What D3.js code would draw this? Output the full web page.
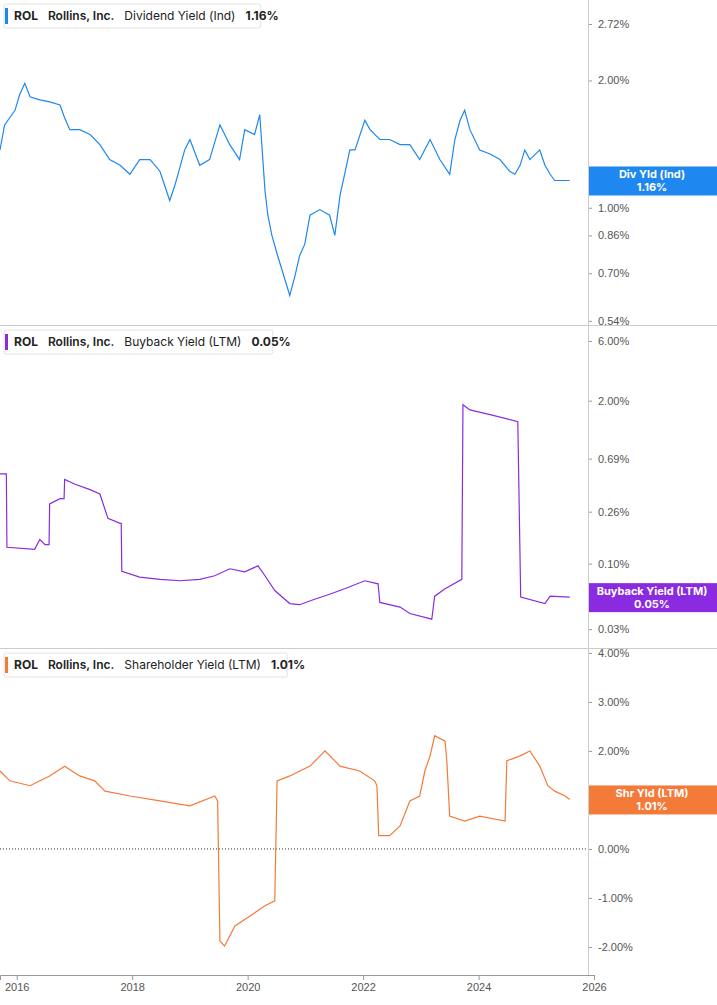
<!DOCTYPE html>
<html>
<head>
<meta charset="utf-8">
<script src="https://cdnjs.cloudflare.com/ajax/libs/d3/7.8.5/d3.min.js"></script>
<style>
  body { margin: 0; background: #fff; font-family: Inter, "Open Sans", sans-serif; }
  .tick text { fill: #555; font-size: 11px; }
</style>
</head>
<body>
<svg id="chart" width="717" height="1005"></svg>
<script>
"use strict";

// dividend yield (ind), %
const divDates = [2015.71,2015.79,2015.97,2016.05,2016.14,2016.23,2016.40,2016.57,2016.75,2016.83,2016.92,2017.09,2017.27,2017.44,2017.61,2017.79,2017.96,2018.13,2018.31,2018.48,2018.65,2018.74,2018.91,2019.00,2019.17,2019.34,2019.52,2019.69,2019.86,2019.95,2020.12,2020.21,2020.30,2020.35,2020.42,2020.52,2020.64,2020.73,2020.82,2020.90,2020.99,2021.08,2021.25,2021.42,2021.51,2021.60,2021.68,2021.77,2021.86,2022.03,2022.12,2022.29,2022.46,2022.64,2022.81,2022.98,2023.16,2023.33,2023.50,2023.59,2023.68,2023.76,2023.85,2024.02,2024.20,2024.37,2024.54,2024.63,2024.72,2024.80,2024.89,2025.06,2025.15,2025.24,2025.32,2025.41,2025.58];
const divYield = [1.37,1.57,1.70,1.85,1.97,1.83,1.80,1.78,1.75,1.63,1.53,1.53,1.49,1.41,1.30,1.26,1.20,1.30,1.30,1.22,1.04,1.13,1.37,1.45,1.26,1.30,1.57,1.41,1.30,1.53,1.49,1.66,1.10,0.96,0.86,0.77,0.68,0.62,0.69,0.77,0.82,0.96,0.99,0.96,0.86,1.07,1.20,1.37,1.37,1.61,1.53,1.45,1.45,1.41,1.41,1.30,1.45,1.30,1.20,1.45,1.61,1.70,1.53,1.37,1.34,1.30,1.22,1.20,1.26,1.37,1.30,1.37,1.26,1.20,1.16,1.16,1.16];

// buyback yield (LTM), %
const bbDates = [2015.71,2015.82,2015.83,2016.31,2016.40,2016.49,2016.56,2016.57,2016.75,2016.82,2016.83,2017.01,2017.27,2017.44,2017.58,2017.79,2017.81,2017.82,2018.13,2018.48,2018.83,2019.17,2019.43,2019.69,2019.95,2020.18,2020.30,2020.47,2020.73,2020.90,2021.16,2021.42,2021.68,2022.03,2022.26,2022.29,2022.64,2022.81,2023.19,2023.24,2023.42,2023.71,2023.73,2023.85,2024.20,2024.68,2024.73,2025.15,2025.24,2025.58];
const bbYield = [0.52,0.52,0.135,0.13,0.156,0.142,0.142,0.30,0.33,0.33,0.47,0.43,0.39,0.36,0.23,0.21,0.21,0.087,0.078,0.075,0.073,0.075,0.080,0.091,0.086,0.096,0.080,0.061,0.048,0.047,0.052,0.057,0.063,0.073,0.069,0.049,0.045,0.040,0.036,0.055,0.063,0.075,1.86,1.69,1.55,1.36,0.054,0.048,0.055,0.054];

// shareholder yield (LTM), %
const shDates = [2015.71,2015.88,2016.23,2016.57,2016.83,2017.09,2017.35,2017.53,2017.96,2018.48,2019.00,2019.43,2019.48,2019.52,2019.60,2019.78,2020.04,2020.30,2020.47,2020.51,2020.73,2021.08,2021.34,2021.60,2021.94,2022.20,2022.24,2022.27,2022.46,2022.64,2022.81,2022.98,2023.07,2023.16,2023.24,2023.42,2023.45,2023.50,2023.76,2024.02,2024.46,2024.49,2024.72,2024.89,2025.06,2025.20,2025.32,2025.50,2025.58];
const shYield = [1.59,1.39,1.29,1.49,1.69,1.49,1.39,1.18,1.08,0.98,0.88,1.08,0.98,-1.88,-1.98,-1.57,-1.37,-1.16,-1.06,1.39,1.49,1.69,2.00,1.69,1.59,1.39,1.29,0.27,0.27,0.47,0.98,1.08,1.59,1.90,2.31,2.20,1.80,0.67,0.57,0.67,0.57,1.80,1.90,2.00,1.69,1.29,1.18,1.08,1.01];

const xTicks = [2016, 2018, 2020, 2022, 2024, 2026];

const panels = [
  { dates: divDates, vals: divYield, color: "#1e88f0", top: 0, bottom: 325, log: true,
    domain: [0.528, 3.10], ticks: [0.54, 0.70, 0.86, 1.00, 2.00, 2.72],
    name: "Dividend Yield (Ind)", last: "1.16%", badge: "Div Yld (Ind)" },
  { dates: bbDates, vals: bbYield, color: "#8a2be2", top: 326, bottom: 648, log: true,
    domain: [0.0212, 7.9], ticks: [0.03, 0.10, 0.26, 0.69, 2.00, 6.00],
    name: "Buyback Yield (LTM)", last: "0.05%", badge: "Buyback Yield (LTM)" },
  { dates: shDates, vals: shYield, color: "#f47a3a", top: 649, bottom: 970, log: false,
    domain: [-2.47, 4.08], ticks: [-2, -1, 0, 1, 2, 3, 4],
    name: "Shareholder Yield (LTM)", last: "1.01%", badge: "Shr Yld (LTM)" }
];

const W = 717, plotR = 588;
const svg = d3.select("#chart");
const x = d3.scaleLinear().domain([2015.71, 2026]).range([0, 594]);

panels.forEach((p, i) => {
  const y = (p.log ? d3.scaleLog() : d3.scaleLinear()).domain(p.domain).range([p.bottom, p.top]);
  const g = svg.append("g");

  g.append("g").attr("transform", `translate(${plotR},0)`)
    .call(d3.axisRight(y).tickValues(p.ticks).tickSize(4).tickFormat(d => d.toFixed(2) + "%"))
    .call(a => a.select(".domain").remove())
    .call(a => a.selectAll("line").attr("stroke", "#999"))
    .call(a => a.selectAll("text").attr("x", 10));

  if (!p.log) {
    g.append("line").attr("x1", 0).attr("x2", plotR).attr("y1", y(0)).attr("y2", y(0))
      .attr("stroke", "#333").attr("stroke-dasharray", "1,2");
  }

  const pts = p.dates.map((d, k) => [d, p.vals[k]]);
  g.append("path").datum(pts)
    .attr("fill", "none").attr("stroke", p.color).attr("stroke-width", 1.2)
    .attr("d", d3.line().x(d => x(d[0])).y(d => y(d[1])));

  // legend box
  const leg = g.append("g").attr("transform", `translate(4,${p.top + 4})`);
  const txt = leg.append("text").attr("x", 10).attr("y", 16).attr("font-size", 12).attr("fill", "#222");
  txt.append("tspan").attr("font-weight", 700).text("ROL");
  txt.append("tspan").attr("dx", 10).attr("font-weight", 600).text("Rollins, Inc.");
  txt.append("tspan").attr("dx", 10).text(p.name);
  txt.append("tspan").attr("dx", 10).attr("font-weight", 700).text(p.last);
  const bw = txt.node().getComputedTextLength() + 22;
  leg.insert("rect", "text").attr("width", bw).attr("height", 24).attr("rx", 2)
    .attr("fill", "#fff").attr("stroke", "#e2e2e2");
  leg.insert("rect", "text").attr("x", 1).attr("y", 4).attr("width", 3).attr("height", 16).attr("fill", p.color);

  // last value badge
  const lv = p.vals[p.vals.length - 1];
  const by = y(lv) - 14;
  g.append("rect").attr("x", plotR).attr("y", by).attr("width", W - plotR).attr("height", 29).attr("fill", p.color);
  g.append("text").attr("x", 652).attr("y", by + 12).attr("text-anchor", "middle")
    .attr("fill", "#fff").attr("font-size", 11).attr("font-weight", 700).text(p.badge);
  g.append("text").attr("x", 652).attr("y", by + 25).attr("text-anchor", "middle")
    .attr("fill", "#fff").attr("font-size", 11).attr("font-weight", 700).text(p.last);

  if (i < 2) {
    g.append("line").attr("x1", 0).attr("x2", W).attr("y1", p.bottom + 0.5).attr("y2", p.bottom + 0.5).attr("stroke", "#ccc");
  }
});

svg.append("line").attr("x1", plotR + 0.5).attr("x2", plotR + 0.5).attr("y1", 0).attr("y2", 975).attr("stroke", "#ccc");

svg.append("g").attr("transform", "translate(0,975)")
  .call(d3.axisBottom(x).tickValues(xTicks).tickSize(5).tickFormat(d3.format("d")))
  .call(a => a.select(".domain").attr("stroke", "#999"))
  .call(a => a.selectAll("line").attr("stroke", "#999"))
  .call(a => a.selectAll("text").attr("font-size", 12).attr("fill", "#444"));
</script>
</body>
</html>
